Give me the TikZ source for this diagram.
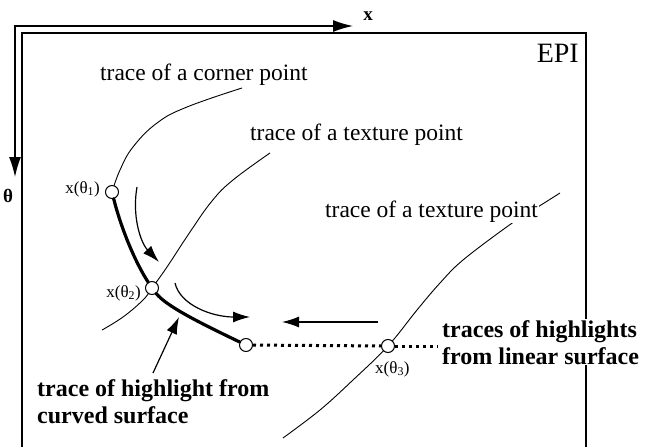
\documentclass[tikz,border=0pt]{standalone}
\usepackage{fontspec}
\setmainfont{Liberation Serif}
\usetikzlibrary{arrows.meta}
\begin{document}
\begin{tikzpicture}[x=1pt,y=-1pt,
 trace/.style={line width=0.9pt},
 hl/.style={line width=3.2pt, line cap=round},
 pt/.style={circle, draw, fill=white, line width=1pt, minimum size=13pt, inner sep=0pt},
 lbl/.style={font=\fontsize{23.5}{28}\selectfont, inner sep=1pt, fill=white},
 sml/.style={font=\fontsize{17}{18}\selectfont, inner sep=0pt},
 boldlbl/.style={font=\fontsize{24}{27}\selectfont\bfseries, inner sep=1pt, align=left, fill=white},
 arr/.style={line width=1.2pt, -{Latex[length=17pt,width=11pt]}},
 axis/.style={line width=1.3pt},
 dots/.style={line width=3pt, dash pattern=on 3pt off 4pt}]
\useasboundingbox (0,0) rectangle (646,447);
% frame and axes
\draw[axis] (22,447) -- (22,33) -- (586,33) -- (586,447);
\coordinate (o) at (15,26);
\coordinate (xe) at (353,26);
\coordinate (ye) at (15,177);
\draw[axis, {Latex[length=20pt,width=12pt]}-{Latex[length=20pt,width=12pt]}] (ye) -- (o) -- (xe);
\node[font=\fontsize{19}{19}\selectfont\bfseries, inner sep=0pt] (xl) at (368,16) {x};
\node[font=\fontsize{19}{19}\selectfont\bfseries, inner sep=0pt] (tl) at (8,196) {θ};
\node[font=\fontsize{28}{28}\selectfont, inner sep=0pt, anchor=base east] (epi) at (579,62) {EPI};
% traces
\draw[trace] plot[smooth, tension=0.7] coordinates {(242,88) (187,107) (157,123) (133,147) (120,170) (112,192)};
\draw[trace] plot[smooth, tension=0.7] coordinates {(270,153) (233,180) (212,201) (190,232) (167,267) (152,288) (143,300) (123,317) (102,330)};
\draw[trace] plot[smooth, tension=0.6] coordinates {(560,193) (530,212) (508,226) (463,260) (440,283) (417,310) (388,346) (353,380) (320,410) (283,438)};
% labels of traces
\node[lbl, anchor=base west] (t1) at (99,80) {trace of a corner point};
\node[lbl, anchor=base west] (t2) at (249,140) {trace of a texture point};
\node[lbl, anchor=base west] (t3) at (324,217) {trace of a texture point};
% highlight points
\node[pt] (c1) at (112,192) {};
\node[pt] (c2) at (152,288) {};
\node[pt] (c4) at (246,345) {};
\node[pt] (c3) at (388,346) {};
\coordinate (dend) at (438,346);
\draw[hl] (c1) .. controls (121,228) and (135,262) .. (c2);
\draw[hl] (c2) .. controls (166,306) and (200,323) .. (c4);
\draw[dots] (c4) -- (c3);
\draw[dots] (c3) -- (dend);
\node[sml, anchor=base east] (l1) at (100,193) {x(θ\textsubscript{1})};
\node[sml, anchor=base east] (l2) at (141,297) {x(θ\textsubscript{2})};
\node[sml, anchor=base west] (l3) at (375,373) {x(θ\textsubscript{3})};
% motion arrows
\coordinate (a1s) at (137,187);
\coordinate (a1e) at (159,262);
\draw[arr] (a1s) .. controls (132,215) and (140,242) .. (a1e);
\coordinate (a2s) at (175,283);
\coordinate (a2e) at (250,317);
\draw[arr] (a2s) .. controls (180,305) and (212,317) .. (a2e);
\coordinate (a3s) at (378,322);
\coordinate (a3e) at (282,322);
\draw[arr] (a3s) -- (a3e);
% bold labels
\node[boldlbl, anchor=north west] (b1) at (36,378) {trace of highlight from\\curved surface};
\node[boldlbl, anchor=north west] (b2) at (441,319) {traces of highlights\\from linear surface};
\coordinate (a4s) at (153,373);
\coordinate (a4e) at (179,317);
\draw[arr] (a4s) -- (a4e);
\end{tikzpicture}
\end{document}
